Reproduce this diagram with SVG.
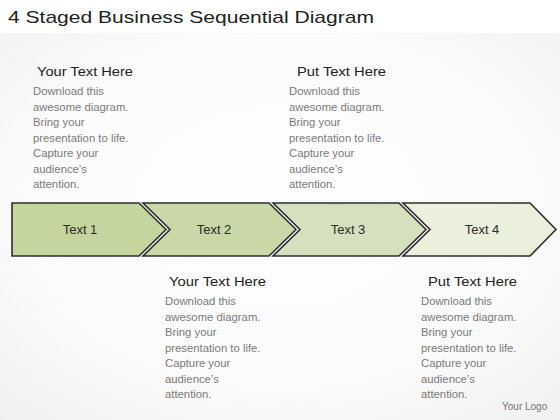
<svg xmlns="http://www.w3.org/2000/svg" width="560" height="420" viewBox="0 0 560 420">
<defs>
<radialGradient id="bg" cx="50%" cy="45%" r="75%">
<stop offset="0" stop-color="#ffffff"/>
<stop offset="0.6" stop-color="#fbfbfb"/>
<stop offset="1" stop-color="#f0f0f0"/>
</radialGradient>
<style>
.title{font-family:"Liberation Sans",Arial,sans-serif;font-size:17px;fill:#222}
.head{font-family:"Liberation Sans",Arial,sans-serif;font-size:13px;fill:#222}
.body{font-family:"Liberation Sans",Arial,sans-serif;font-size:11.3px;fill:#7a7a7a}
.chev{stroke:#2e2e2e;stroke-width:1.6;stroke-linejoin:miter}
.lbl{font-family:"Liberation Sans",Arial,sans-serif;font-size:13px;fill:#2a2a2a;text-anchor:middle}
.logo{font-family:"Liberation Sans",Arial,sans-serif;font-size:10px;fill:#777}
</style>
</defs>
<rect x="0" y="0" width="560" height="420" fill="#ffffff"/>
<rect x="0" y="33" width="560" height="387" fill="url(#bg)"/>
<text class="title" x="8" y="23" textLength="366" lengthAdjust="spacingAndGlyphs">4 Staged Business Sequential Diagram</text>

<g id="connectors"/>

<g id="step1">
<polygon class="chev" points="12,203 139,203 166,229.5 139,256 12,256" fill="#c4d59d"/>
<text class="lbl" x="80" y="234">Text 1</text>
</g>
<g id="step2">
<polygon class="chev" points="143,203 269,203 296,229.5 269,256 143,256 170,229.5" fill="#c9d8a6"/>
<text class="lbl" x="214" y="234">Text 2</text>
</g>
<g id="step3">
<polygon class="chev" points="273,203 399,203 426,229.5 399,256 273,256 300,229.5" fill="#d5e1be"/>
<text class="lbl" x="348" y="234">Text 3</text>
</g>
<g id="step4">
<polygon class="chev" points="403,203 530,203 556,229.5 530,256 403,256 430,229.5" fill="#ebf0dd"/>
<text class="lbl" x="482" y="234">Text 4</text>
</g>

<g id="note1">
<text class="head" x="37" y="76" textLength="96" lengthAdjust="spacingAndGlyphs">Your Text Here</text>
<text class="body" x="33" y="95">Download this</text>
<text class="body" x="33" y="110.5">awesome diagram.</text>
<text class="body" x="33" y="126">Bring your</text>
<text class="body" x="33" y="141.5">presentation to life.</text>
<text class="body" x="33" y="157">Capture your</text>
<text class="body" x="33" y="172.5">audience’s</text>
<text class="body" x="33" y="188">attention.</text>
</g>
<g id="note2">
<text class="head" x="297" y="76" textLength="89" lengthAdjust="spacingAndGlyphs">Put Text Here</text>
<text class="body" x="289" y="95">Download this</text>
<text class="body" x="289" y="110.5">awesome diagram.</text>
<text class="body" x="289" y="126">Bring your</text>
<text class="body" x="289" y="141.5">presentation to life.</text>
<text class="body" x="289" y="157">Capture your</text>
<text class="body" x="289" y="172.5">audience’s</text>
<text class="body" x="289" y="188">attention.</text>
</g>
<g id="note3">
<text class="head" x="169" y="286" textLength="97" lengthAdjust="spacingAndGlyphs">Your Text Here</text>
<text class="body" x="165" y="305">Download this</text>
<text class="body" x="165" y="320.5">awesome diagram.</text>
<text class="body" x="165" y="336">Bring your</text>
<text class="body" x="165" y="351.5">presentation to life.</text>
<text class="body" x="165" y="367">Capture your</text>
<text class="body" x="165" y="382.5">audience’s</text>
<text class="body" x="165" y="398">attention.</text>
</g>
<g id="note4">
<text class="head" x="428" y="286" textLength="89" lengthAdjust="spacingAndGlyphs">Put Text Here</text>
<text class="body" x="421" y="305">Download this</text>
<text class="body" x="421" y="320.5">awesome diagram.</text>
<text class="body" x="421" y="336">Bring your</text>
<text class="body" x="421" y="351.5">presentation to life.</text>
<text class="body" x="421" y="367">Capture your</text>
<text class="body" x="421" y="382.5">audience’s</text>
<text class="body" x="421" y="398">attention.</text>
</g>
<text class="logo" x="502" y="410">Your Logo</text>
</svg>
